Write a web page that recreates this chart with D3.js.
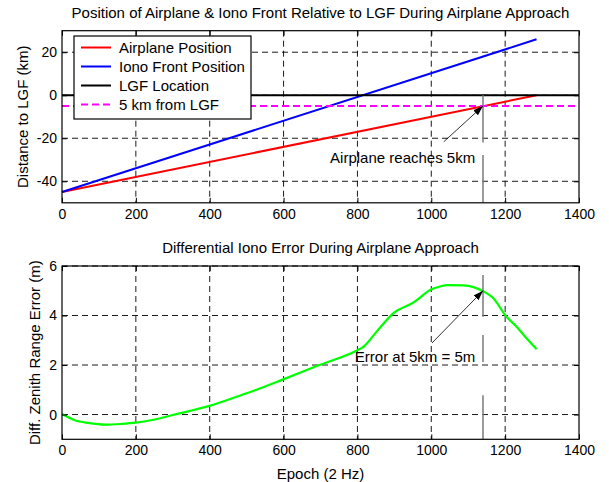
<!DOCTYPE html>
<html>
<head>
<meta charset="utf-8">
<script src="https://cdn.jsdelivr.net/npm/d3@7"></script>
<style>
  html, body { margin: 0; padding: 0; background: #fff; }
  svg { display: block; }
  text { font-family: "Liberation Sans", Arial, sans-serif; fill: #000; }
</style>
</head>
<body>
<svg id="chart" width="609" height="482"></svg>
<script>
// ---------- data ----------
const xTicks = [0, 200, 400, 600, 800, 1000, 1200, 1400];
const topYTicks = [-40, -20, 0, 20];
const botYTicks = [0, 2, 4, 6];

const airplaneEpoch = [0, 1285];
const airplaneKm = [-45, 0];
const ionoEpoch = [0, 1285];
const ionoKm = [-45, 26];
const lgfEpoch = [0, 1400];
const lgfKm = [0, 0];
const fiveKmEpoch = [0, 1400];
const fiveKmKm = [-5, -5];

const legendLabels = ["Airplane Position", "Iono Front Position", "LGF Location", "5 km from LGF"];
const seriesColors = ["#ff0000", "#0000ff", "#000000", "#ff00ff"];

const errEpoch = [0, 35, 71, 117, 161, 200, 252, 297, 342, 399, 477, 523, 599, 690, 800, 815, 821, 852, 897, 951, 1001, 1024, 1042, 1087, 1143, 1168, 1202, 1231, 1258, 1285];
const errMeters = [0.02, -0.23, -0.34, -0.41, -0.38, -0.33, -0.2, -0.03, 0.13, 0.35, 0.74, 0.98, 1.42, 1.96, 2.6, 2.72, 2.8, 3.35, 4.09, 4.52, 5.06, 5.17, 5.23, 5.22, 4.96, 4.7, 3.98, 3.55, 3.08, 2.64];

const markEpoch = 1140;
const topMarkSegments = [[0, -22], [-27.8, -50]];
const botMarkSegments = [[5.64, 3.95], [3.21, 2.12], [0.78, -1]];
const topArrow = { from: [1034, -21.6], to: [1140, -5] };
const botArrow = { from: [1002, 2.89], to: [1140, 5] };
const topNote = { epoch: 726, value: -31.6, text: "Airplane reaches 5km" };
const botNote = { epoch: 793, value: 2.13, text: "Error at 5km = 5m" };

// ---------- layout ----------
const svg = d3.select("#chart");
svg.append("rect").attr("width", 609).attr("height", 482).attr("fill", "#fff");

const L = 62, R = 579;
const x = d3.scaleLinear().domain([0, 1400]).range([L, R]);
const yTop = d3.scaleLinear().domain([-50, 30]).range([202.8, 30.7]);
const yBot = d3.scaleLinear().domain([-1, 6]).range([439.3, 266]);

const defs = svg.append("defs");
defs.append("marker").attr("id", "arrowhead")
  .attr("viewBox", "0 0 10 10").attr("refX", 10).attr("refY", 5)
  .attr("markerWidth", 10).attr("markerHeight", 10)
  .attr("markerUnits", "userSpaceOnUse")
  .attr("orient", "auto")
  .append("path").attr("d", "M0,1.5 L10,5 L0,8.5 Z").attr("fill", "#000");

function drawPanel(y, yTicks, title, ylabel, ylabelX, drawContent) {
  const g = svg.append("g");
  const [yb, yt] = y.range();
  // grid
  g.selectAll(".gx").data(xTicks.filter(t => t > 0 && t < 1400)).join("line")
    .attr("x1", d => x(d)).attr("x2", d => x(d)).attr("y1", yt).attr("y2", yb)
    .attr("stroke", "#000").attr("stroke-width", 0.9).attr("stroke-dasharray", "6,4");
  g.selectAll(".gy").data(yTicks).join("line")
    .attr("x1", L).attr("x2", R).attr("y1", d => y(d)).attr("y2", d => y(d))
    .attr("stroke", "#000").attr("stroke-width", 0.9).attr("stroke-dasharray", "6,4");

  drawContent(g);

  // axes
  const fmt = d3.format("d");
  const ax = g.append("g").attr("transform", `translate(0,${yb})`)
    .call(d3.axisBottom(x).tickValues(xTicks).tickSize(-5).tickSizeOuter(0).tickPadding(6).tickFormat(fmt));
  const axT = g.append("g").attr("transform", `translate(0,${yt})`)
    .call(d3.axisTop(x).tickValues(xTicks).tickSize(-5).tickSizeOuter(0).tickFormat(""));
  const ay = g.append("g").attr("transform", `translate(${L},0)`)
    .call(d3.axisLeft(y).tickValues(yTicks).tickSize(-5).tickSizeOuter(0).tickPadding(5)
      .tickFormat(d => (d < 0 ? "-" : "") + Math.abs(d)));
  const ayR = g.append("g").attr("transform", `translate(${R},0)`)
    .call(d3.axisRight(y).tickValues(yTicks).tickSize(-5).tickSizeOuter(0).tickFormat(""));
  [ax, axT, ay, ayR].forEach(a => {
    a.select(".domain").remove();
    a.selectAll("line").attr("stroke", "#000");
    a.selectAll("text").attr("font-size", 14).attr("font-family", "'Liberation Sans', Arial, sans-serif").attr("fill", "#000");
  });

  g.append("rect").attr("x", L).attr("y", yt).attr("width", R - L).attr("height", yb - yt)
    .attr("fill", "none").attr("stroke", "#000").attr("stroke-width", 1.2);

  g.append("text").attr("x", (L + R) / 2).attr("y", yt - 13)
    .attr("text-anchor", "middle").attr("font-size", 15).text(title);
  g.append("text").attr("transform", `translate(${ylabelX},${(yt + yb) / 2}) rotate(-90)`)
    .attr("text-anchor", "middle").attr("dominant-baseline", "central")
    .attr("font-size", 15).text(ylabel);
  return g;
}

// ---------- top panel ----------
drawPanel(yTop, topYTicks,
  "Position of Airplane & Iono Front Relative to LGF During Airplane Approach",
  "Distance to LGF (km)", 22, g => {
    const line = d3.line().x(d => x(d[0])).y(d => yTop(d[1]));
    const series = [
      d3.zip(airplaneEpoch, airplaneKm),
      d3.zip(ionoEpoch, ionoKm),
      d3.zip(lgfEpoch, lgfKm),
      d3.zip(fiveKmEpoch, fiveKmKm)
    ];
    series.forEach((s, i) => {
      g.append("path").attr("d", line(s)).attr("fill", "none")
        .attr("stroke", seriesColors[i]).attr("stroke-width", 2)
        .attr("stroke-dasharray", i === 3 ? "7,4" : null);
    });
    topMarkSegments.forEach(sg => {
      g.append("line").attr("x1", x(markEpoch)).attr("x2", x(markEpoch))
        .attr("y1", yTop(sg[0])).attr("y2", yTop(sg[1]))
        .attr("stroke", "#7a7a7a").attr("stroke-width", 1.5);
    });
    g.append("line")
      .attr("x1", x(topArrow.from[0])).attr("y1", yTop(topArrow.from[1]))
      .attr("x2", x(topArrow.to[0])).attr("y2", yTop(topArrow.to[1]))
      .attr("stroke", "#000").attr("stroke-width", 0.8).attr("marker-end", "url(#arrowhead)");
    g.append("text").attr("x", x(topNote.epoch)).attr("y", yTop(topNote.value))
      .attr("font-size", 15).text(topNote.text);

    // legend
    const lg = g.append("g");
    lg.append("rect").attr("x", 74).attr("y", 36).attr("width", 177).attr("height", 83)
      .attr("fill", "#fff").attr("stroke", "#000").attr("stroke-width", 1.2);
    legendLabels.forEach((lab, i) => {
      const yy = 47.5 + i * 19;
      lg.append("line").attr("x1", 81).attr("x2", 111).attr("y1", yy).attr("y2", yy)
        .attr("stroke", seriesColors[i]).attr("stroke-width", 2)
        .attr("stroke-dasharray", i === 3 ? "7,4" : null);
      lg.append("text").attr("x", 119).attr("y", yy).attr("dominant-baseline", "central")
        .attr("font-size", 15).text(lab);
    });
  });

// ---------- bottom panel ----------
drawPanel(yBot, botYTicks,
  "Differential Iono Error During Airplane Approach",
  "Diff. Zenith Range Error (m)", 34, g => {
    const line = d3.line().x(d => x(d[0])).y(d => yBot(d[1])).curve(d3.curveMonotoneX);
    g.append("path").attr("d", line(d3.zip(errEpoch, errMeters))).attr("fill", "none")
      .attr("stroke", "#00ff00").attr("stroke-width", 2.2);
    botMarkSegments.forEach(sg => {
      g.append("line").attr("x1", x(markEpoch)).attr("x2", x(markEpoch))
        .attr("y1", yBot(sg[0])).attr("y2", yBot(sg[1]))
        .attr("stroke", "#7a7a7a").attr("stroke-width", 1.5);
    });
    g.append("line")
      .attr("x1", x(botArrow.from[0])).attr("y1", yBot(botArrow.from[1]))
      .attr("x2", x(botArrow.to[0])).attr("y2", yBot(botArrow.to[1]))
      .attr("stroke", "#000").attr("stroke-width", 0.8).attr("marker-end", "url(#arrowhead)");
    g.append("text").attr("x", x(botNote.epoch)).attr("y", yBot(botNote.value))
      .attr("font-size", 15).text(botNote.text);
  });

svg.append("text").attr("x", (L + R) / 2).attr("y", 473).attr("text-anchor", "middle")
  .attr("dominant-baseline", "central").attr("font-size", 15).text("Epoch (2 Hz)");
</script>
</body>
</html>
